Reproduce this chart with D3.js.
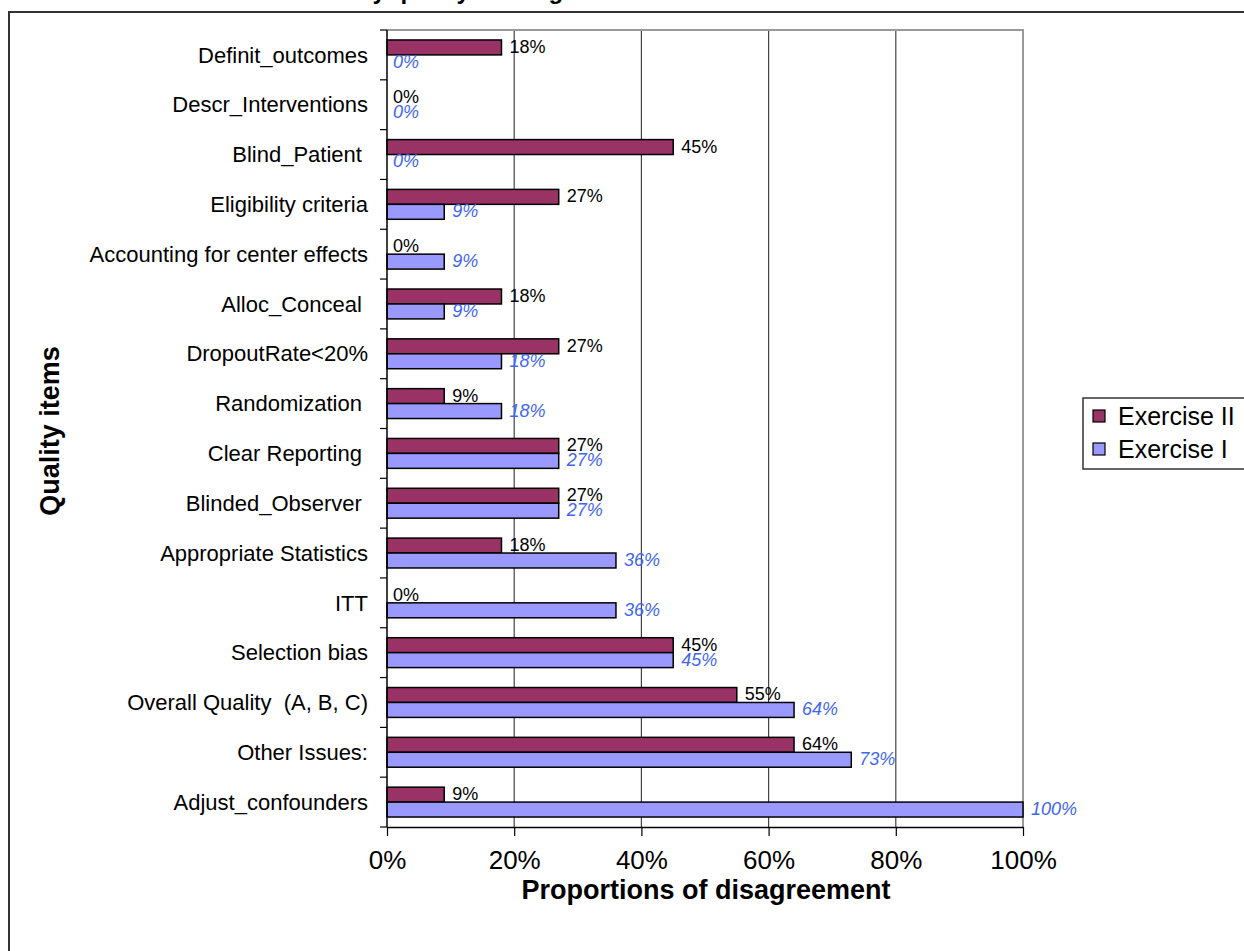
<!DOCTYPE html>
<html>
<head>
<meta charset="utf-8">
<script src="https://cdn.jsdelivr.net/npm/d3@7"></script>
<style>
  html, body { margin: 0; padding: 0; background: #fff; }
  svg { display: block; font-family: Arial, "Liberation Sans", sans-serif; }
  text { white-space: pre; }
</style>
</head>
<body>
<svg id="chart" width="1244" height="951"></svg>
<script>
// Quality items, listed top to bottom
const categories = [
  "Definit_outcomes",
  "Descr_Interventions",
  "Blind_Patient ",
  "Eligibility criteria",
  "Accounting for center effects",
  "Alloc_Conceal ",
  "DropoutRate<20%",
  "Randomization ",
  "Clear Reporting ",
  "Blinded_Observer ",
  "Appropriate Statistics",
  "ITT",
  "Selection bias",
  "Overall Quality  (A, B, C)",
  "Other Issues:",
  "Adjust_confounders"
];

// Proportion of disagreement (%) per exercise
const exercise2 = [18, 0, 45, 27, 0, 18, 27, 9, 27, 27, 18, 0, 45, 55, 64, 9];
const exercise1 = [0, 0, 0, 9, 9, 9, 18, 18, 27, 27, 36, 36, 45, 64, 73, 100];

const seriesNames = ["Exercise II", "Exercise I"];
const xTicks = [0, 20, 40, 60, 80, 100];

const seriesColor = { "Exercise II": "#993366", "Exercise I": "#9999FF" };
const labelColor = { "Exercise II": "#000000", "Exercise I": "#3F66F2" };

const svg = d3.select("#chart");

// Frame around the whole chart
svg.append("rect")
  .attr("x", 9).attr("y", 12)
  .attr("width", 1260).attr("height", 960)
  .attr("fill", "none").attr("stroke", "#333").attr("stroke-width", 2);

// Chart title (top edge of the page)
svg.append("text")
  .attr("x", 207).attr("y", -1)
  .attr("font-size", 24).attr("font-weight", "bold")
  .text("Discordance by quality ranking");

const plot = { left: 387, right: 1023, top: 30, bottom: 827 };

const x = d3.scaleLinear().domain([0, 100]).range([plot.left, plot.right]);
const y = d3.scaleBand().domain(categories).range([plot.top, plot.bottom]);
const ySub = d3.scaleBand().domain(seriesNames)
  .range([0, y.bandwidth()]).paddingInner(0).paddingOuter(0.667);

// Vertical gridlines
svg.append("g").selectAll("line")
  .data(xTicks.filter(d => d > 0 && d < 100))
  .join("line")
  .attr("x1", d => x(d)).attr("x2", d => x(d))
  .attr("y1", plot.top).attr("y2", plot.bottom)
  .attr("stroke", "#444").attr("stroke-width", 1.2);

// Plot area border (top and right)
svg.append("path")
  .attr("d", `M${plot.left},${plot.top}H${plot.right}V${plot.bottom}`)
  .attr("fill", "none").attr("stroke", "#999").attr("stroke-width", 2);

// Bars
const rows = categories.map((c, i) => ({ cat: c, values: { "Exercise II": exercise2[i], "Exercise I": exercise1[i] } }));
const barData = rows.flatMap(r => seriesNames.map(s => ({ cat: r.cat, series: s, value: r.values[s] })));

const bars = svg.append("g");
bars.selectAll("rect")
  .data(barData.filter(d => d.value > 0))
  .join("rect")
  .attr("x", x(0))
  .attr("y", d => y(d.cat) + ySub(d.series))
  .attr("width", d => x(d.value) - x(0))
  .attr("height", ySub.bandwidth())
  .attr("fill", d => seriesColor[d.series])
  .attr("stroke", "#000").attr("stroke-width", 1.5);

// Value labels
svg.append("g").selectAll("text")
  .data(barData)
  .join("text")
  .attr("x", d => x(d.value) + (d.value > 0 ? 8 : 6))
  .attr("y", d => y(d.cat) + ySub(d.series) + ySub.bandwidth() - 2)
  .attr("font-size", 18)
  .attr("font-style", d => d.series === "Exercise I" ? "italic" : "normal")
  .attr("fill", d => labelColor[d.series])
  .text(d => d.value + "%");

// Bottom axis
const xAxis = d3.axisBottom(x)
  .tickValues(xTicks)
  .tickFormat(d => d + "%")
  .tickSize(9)
  .tickSizeOuter(0);
const gx = svg.append("g").attr("transform", `translate(0,${plot.bottom})`).call(xAxis);
gx.select(".domain").attr("stroke", "#000").attr("stroke-width", 1.5);
gx.selectAll(".tick line").attr("stroke", "#000").attr("stroke-width", 1.2);
gx.selectAll(".tick text")
  .attr("font-size", 26).attr("font-family", "Arial, 'Liberation Sans', sans-serif")
  .attr("fill", "#000").attr("dy", "1.15em");

// Left axis: line with tick marks on category boundaries
const gy = svg.append("g");
gy.append("line")
  .attr("x1", plot.left).attr("x2", plot.left)
  .attr("y1", plot.top).attr("y2", plot.bottom)
  .attr("stroke", "#000").attr("stroke-width", 1.5);
const bounds = categories.map(c => y(c)).concat([plot.bottom]);
gy.selectAll("line.sep")
  .data(bounds)
  .join("line").attr("class", "sep")
  .attr("x1", plot.left - 7).attr("x2", plot.left)
  .attr("y1", d => d).attr("y2", d => d)
  .attr("stroke", "#000").attr("stroke-width", 1.2);
gy.selectAll("text")
  .data(categories)
  .join("text")
  .attr("x", plot.left - 19)
  .attr("y", d => y(d) + y.bandwidth() / 2)
  .attr("dy", "0.35em")
  .attr("text-anchor", "end")
  .attr("font-size", 22)
  .text(d => d);

// Axis titles
svg.append("text")
  .attr("x", 706).attr("y", 899)
  .attr("text-anchor", "middle")
  .attr("font-size", 27).attr("font-weight", "bold")
  .text("Proportions of disagreement");

svg.append("text")
  .attr("transform", "translate(59,431) rotate(-90)")
  .attr("text-anchor", "middle")
  .attr("font-size", 27).attr("font-weight", "bold")
  .text("Quality items");

// Legend
const legend = svg.append("g").attr("transform", "translate(1083,398)");
legend.append("rect")
  .attr("x", 0).attr("y", 0).attr("width", 200).attr("height", 71)
  .attr("fill", "#fff").attr("stroke", "#333").attr("stroke-width", 1.5);
const items = legend.selectAll("g.item")
  .data(seriesNames)
  .join("g").attr("class", "item")
  .attr("transform", (d, i) => `translate(0,${18 + i * 33})`);
items.append("rect")
  .attr("x", 10).attr("y", -6).attr("width", 12).attr("height", 12)
  .attr("fill", d => seriesColor[d]).attr("stroke", "#000").attr("stroke-width", 1.2);
items.append("text")
  .attr("x", 35).attr("y", 0).attr("dy", "0.35em")
  .attr("font-size", 25)
  .text(d => d);
</script>
</body>
</html>
